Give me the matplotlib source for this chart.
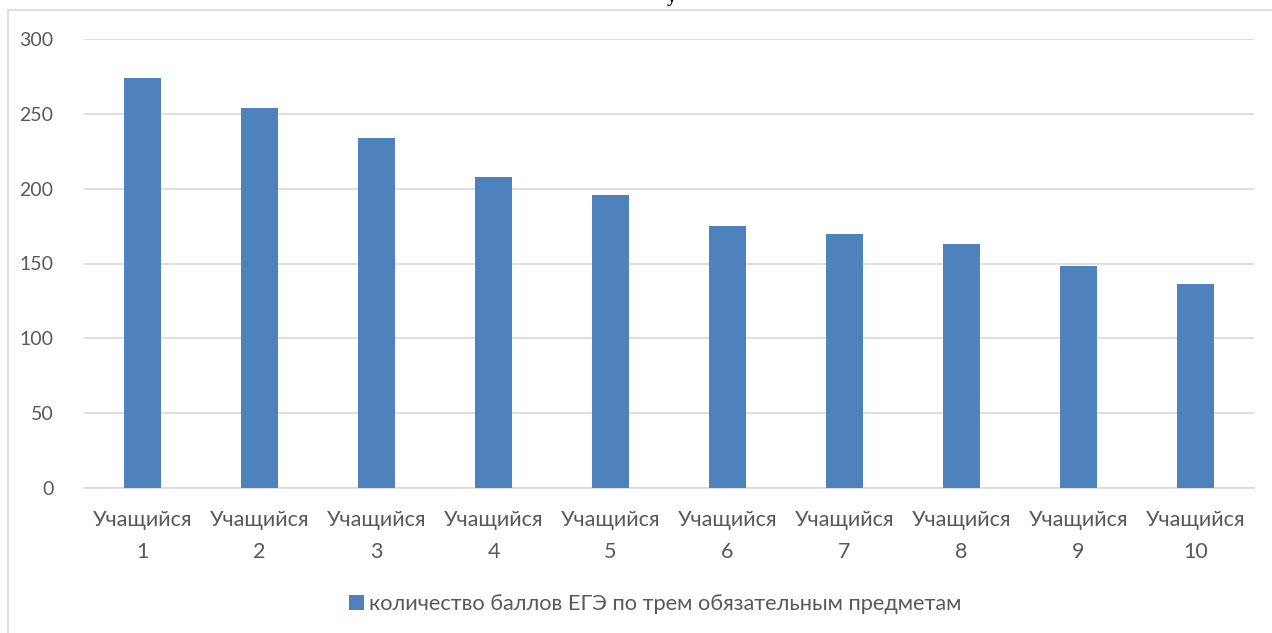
import numpy as np
import matplotlib.pyplot as plt
from matplotlib.patches import Rectangle

students = ['Учащийся\n%d' % i for i in range(1, 11)]
scores = [274, 254, 234, 208, 196, 175, 170, 163, 148, 136]
legend_label = 'количество баллов ЕГЭ по трем обязательным предметам'

plt.rcParams['font.family'] = ['Lato', 'DejaVu Sans']

fig = plt.figure(figsize=(12.72, 6.33), dpi=100)
ax = fig.add_axes([84 / 1272, 1 - 488 / 633, (1254 - 84) / 1272, (488 - 39) / 633])

x = np.arange(len(scores))
ax.bar(x, scores, width=0.32, color='#4F81BD', label=legend_label, zorder=3)

ax.set_xlim(-0.5, len(scores) - 0.5)
ax.set_ylim(0, 300)
ax.set_yticks(range(0, 301, 50))
ax.set_xticks(x)
ax.set_xticklabels(students, linespacing=1.75)
ax.tick_params(axis='both', length=0, labelcolor='#595959')
ax.tick_params(axis='y', pad=22, labelsize=14)
ax.tick_params(axis='x', pad=16, labelsize=15.5)
ax.grid(axis='y', color='#D9D9D9', linewidth=1.2, zorder=0)
for s in ['top', 'right', 'left']:
    ax.spines[s].set_visible(False)
ax.spines['bottom'].set_color('#D9D9D9')
ax.spines['bottom'].set_linewidth(1.2)

leg = fig.legend(loc='center', bbox_to_anchor=(0.515, 1 - 604 / 633), frameon=False,
                 fontsize=15.7, handlelength=0.7, handleheight=0.7, handletextpad=0.25)
for t in leg.get_texts():
    t.set_color('#595959')

# chart frame
fig.patches.append(Rectangle((8 / 1272, -0.1), 1.2, 1.1 - 10 / 633, transform=fig.transFigure,
                             fill=False, edgecolor='#D9D9D9', linewidth=1.2))

# cut-off title at the very top
fig.text(672 / 1272, 1 - 2 / 633, 'у', family=['Liberation Serif'], fontweight='bold',
         fontsize=14, ha='center', va='baseline')

fig.savefig('out.png', dpi=100)
